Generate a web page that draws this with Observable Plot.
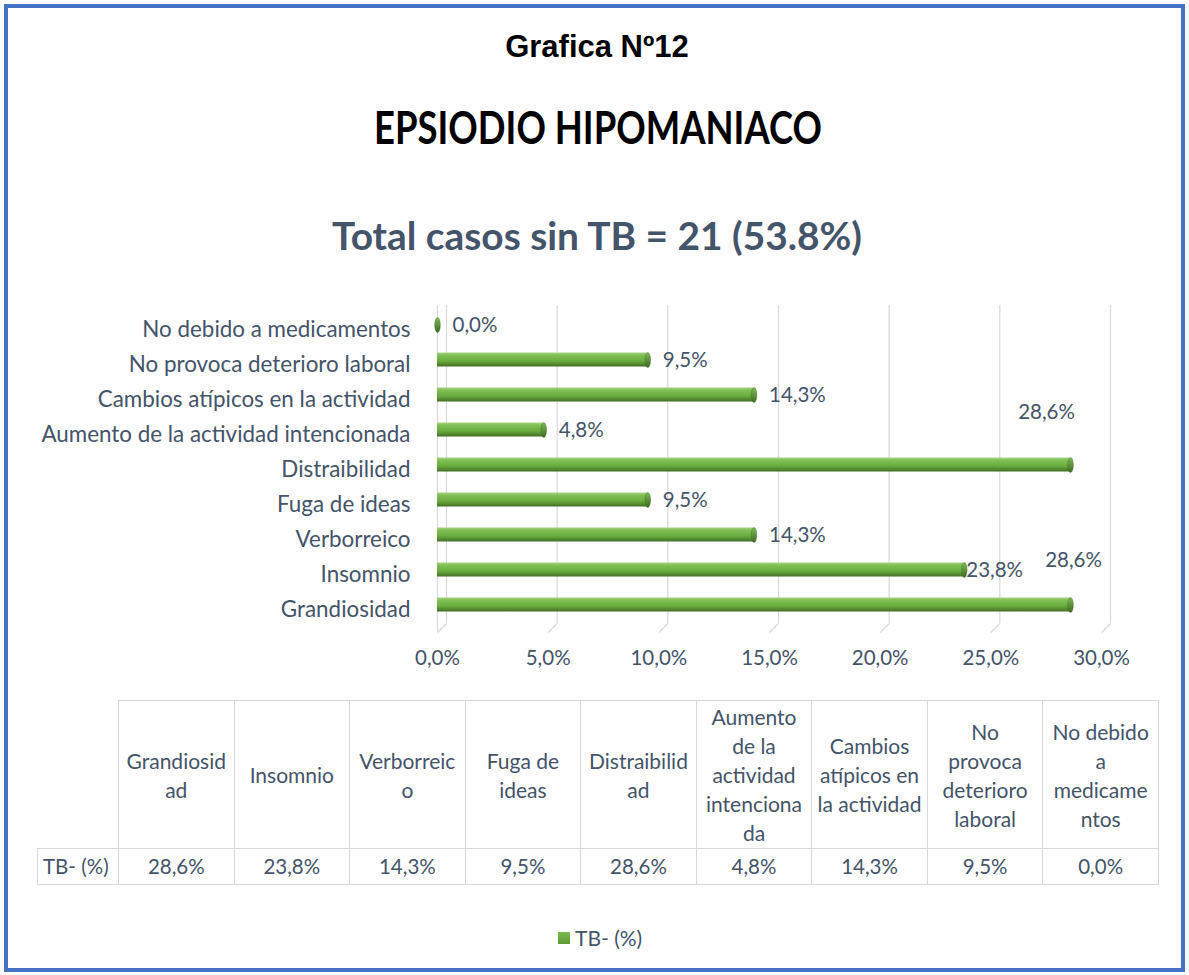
<!DOCTYPE html>
<html>
<head>
<meta charset="utf-8">
<script src="https://cdn.jsdelivr.net/npm/d3@7"></script>
<script src="https://cdn.jsdelivr.net/npm/@observablehq/plot@0.6"></script>
<style>
  html, body { margin: 0; padding: 0; background: #fff; }
  #page { position: relative; width: 1189px; height: 975px; overflow: hidden; background: #fff; font-family: Lato, sans-serif; }
  #frame { position: absolute; left: 4px; top: 4px; width: 1181px; height: 968px; border: 4px solid #4472C4; box-sizing: border-box; }
  #titles { position: absolute; left: 0; top: 0; }
  #chart { position: absolute; left: 0; top: 290px; }
  #table { position: absolute; left: 37px; top: 700px; border-collapse: collapse; table-layout: fixed; font-family: Lato, sans-serif; font-size: 21px; color: #44546A; }
  #table td { border: 1px solid #D9D9D9; padding: 0; text-align: center; vertical-align: middle; white-space: pre; line-height: 29px; }
  #table tr.vals td { font-size: 20.5px; }
  #table td.corner { border: none; }
  #table td.rowhead { text-align: left; padding-left: 5px; }
  #legend { position: absolute; left: 558px; top: 925px; display: flex; align-items: center; font-family: Lato, sans-serif; font-size: 21px; color: #44546A; }
  #legend .sw { width: 12px; height: 12px; background: linear-gradient(#7CBA52, #5C9A35); margin-right: 5px; }
</style>
</head>
<body>
<div id="page">
  <div id="frame"></div>
  <svg id="titles" width="1189" height="290"></svg>
  <div id="chart"></div>
  <table id="table"></table>
  <div id="legend"></div>
</div>
<script>
// ---- Data ----
const chartTitle = "Grafica Nº12";
const chartHeading = "EPSIODIO HIPOMANIACO";
const chartSubtitle = "Total casos sin TB = 21 (53.8%)";
const seriesName = "TB- (%)";
const categories = [
  "Grandiosidad",
  "Insomnio",
  "Verborreico",
  "Fuga de ideas",
  "Distraibilidad",
  "Aumento de la actividad intencionada",
  "Cambios atípicos en la actividad",
  "No provoca deterioro laboral",
  "No debido a medicamentos"
];
const values = [28.6, 23.8, 14.3, 9.5, 28.6, 4.8, 14.3, 9.5, 0.0];
const xTicks = [0, 5, 10, 15, 20, 25, 30];
const tableHeaders = [
  "Grandiosid\nad",
  "Insomnio",
  "Verborreic\no",
  "Fuga de\nideas",
  "Distraibilid\nad",
  "Aumento\nde la\nactividad\nintenciona\nda",
  "Cambios\natípicos en\nla actividad",
  "No\nprovoca\ndeterioro\nlaboral",
  "No debido\na\nmedicame\nntos"
];

// ---- Helpers ----
const fmt = v => v.toFixed(1).replace(".", ",") + "%";
const data = categories.map((c, i) => ({category: c, value: values[i]}));
const textColor = "#44546A";

// ---- Titles ----
const tsvg = d3.select("#titles");
tsvg.append("text").attr("x", 597).attr("y", 57).attr("text-anchor", "middle")
  .attr("font-family", "Liberation Sans, Arial, sans-serif").attr("font-weight", "bold")
  .attr("font-size", 31).attr("fill", "#000").text(chartTitle);
tsvg.append("text").attr("x", 598).attr("y", 144).attr("text-anchor", "middle")
  .attr("font-family", "Lato, sans-serif").attr("font-weight", "bold")
  .attr("font-size", 46).attr("fill", "#000")
  .attr("textLength", 448).attr("lengthAdjust", "spacingAndGlyphs").text(chartHeading);
tsvg.append("text").attr("x", 597).attr("y", 250).attr("text-anchor", "middle")
  .attr("font-family", "Lato, sans-serif").attr("font-weight", "bold")
  .attr("font-size", 39).attr("fill", textColor)
  .attr("textLength", 530).attr("lengthAdjust", "spacingAndGlyphs").text(chartSubtitle);

// ---- Custom symbols ----
const ellipseSym = {
  draw(ctx) {
    const rx = 2.8, ry = 7.5, k = 0.5523;
    ctx.moveTo(rx, 0);
    ctx.bezierCurveTo(rx, ry * k, rx * k, ry, 0, ry);
    ctx.bezierCurveTo(-rx * k, ry, -rx, ry * k, -rx, 0);
    ctx.bezierCurveTo(-rx, -ry * k, -rx * k, -ry, 0, -ry);
    ctx.bezierCurveTo(rx * k, -ry, rx, -ry * k, rx, 0);
    ctx.closePath();
  }
};
const slantSym = {
  draw(ctx) { ctx.moveTo(0, 0); ctx.lineTo(9, -9); }
};

function gradientDefs() {
  const svgNS = "http://www.w3.org/2000/svg";
  const defs = document.createElementNS(svgNS, "defs");
  defs.innerHTML = `
    <linearGradient id="barGrad" x1="0" y1="0" x2="0" y2="1">
      <stop offset="0" stop-color="#A6D47F"/>
      <stop offset="0.2" stop-color="#80BF55"/>
      <stop offset="0.6" stop-color="#6AAE3F"/>
      <stop offset="1" stop-color="#436F26"/>
    </linearGradient>
    <linearGradient id="capGrad" x1="0" y1="0" x2="0" y2="1">
      <stop offset="0" stop-color="#7DB957"/>
      <stop offset="1" stop-color="#3E6A22"/>
    </linearGradient>`;
  return defs;
}

const special = new Set(["Distraibilidad", "Grandiosidad", "Insomnio"]);

const chart = Plot.plot({
  width: 1189,
  height: 400,
  marginLeft: 437,
  marginRight: 88,
  marginTop: 15,
  marginBottom: 63,
  style: {fontFamily: "Lato, sans-serif", fontSize: "20px", color: textColor, background: "transparent"},
  x: {domain: [0, 30]},
  y: {domain: categories.slice().reverse(), padding: 0},
  marks: [
    gradientDefs,
    Plot.ruleX(xTicks, {stroke: "#D9D9D9", strokeWidth: 1.2, dx: 9, insetBottom: 4}),
    Plot.dot(xTicks, {x: d => d, frameAnchor: "bottom", symbol: slantSym, fill: "none", stroke: "#D9D9D9", strokeWidth: 1.2, dy: 5}),
    Plot.ruleX([0], {stroke: "#D9D9D9", strokeWidth: 1.2, insetBottom: -5}),
    Plot.barX(data, {x: "value", y: "category", fill: "url(#barGrad)", insetTop: 10.5, insetBottom: 10.5, dy: -2}),
    Plot.dot(data, {x: "value", y: "category", symbol: ellipseSym, fill: "url(#capGrad)", stroke: "#3E6A22", strokeWidth: 0.4, dy: -2}),
    Plot.text(data.filter(d => !special.has(d.category)), {x: "value", y: "category", text: d => fmt(d.value), textAnchor: "start", dx: 15, dy: -2, fill: textColor, fontSize: 20.5}),
    Plot.text(data.filter(d => d.category === "Insomnio"), {x: "value", y: "category", text: d => fmt(d.value), textAnchor: "start", dx: 2, dy: -2, fill: textColor, fontSize: 20.5}),
    Plot.text(data.filter(d => d.category === "Distraibilidad"), {x: "value", y: "category", text: d => fmt(d.value), textAnchor: "middle", dx: -24, dy: -55, fill: textColor, fontSize: 20.5}),
    Plot.text(data.filter(d => d.category === "Grandiosidad"), {x: "value", y: "category", text: d => fmt(d.value), textAnchor: "middle", dx: 3, dy: -47, fill: textColor, fontSize: 20.5}),
    Plot.axisY({tickSize: 0, tickPadding: 27, dy: 3, fontSize: 22.4, label: null}),
    Plot.axisX({ticks: xTicks, tickFormat: fmt, tickSize: 0, tickPadding: 23, fontSize: 20.5, label: null})
  ]
});
document.getElementById("chart").appendChild(chart);

// ---- Data table ----
const table = d3.select("#table");
const colgroup = table.append("colgroup");
colgroup.append("col").style("width", "81px");
categories.forEach(() => colgroup.append("col").style("width", "115.55px"));
const hr = table.append("tr").style("height", "148px");
hr.append("td").attr("class", "corner");
tableHeaders.forEach(h => hr.append("td").text(h));
const vr = table.append("tr").attr("class", "vals").style("height", "36px");
vr.append("td").attr("class", "rowhead").text(seriesName);
values.forEach(v => vr.append("td").text(fmt(v)));

// ---- Legend ----
const lg = d3.select("#legend");
lg.append("div").attr("class", "sw");
lg.append("span").text(seriesName);
</script>
</body>
</html>
